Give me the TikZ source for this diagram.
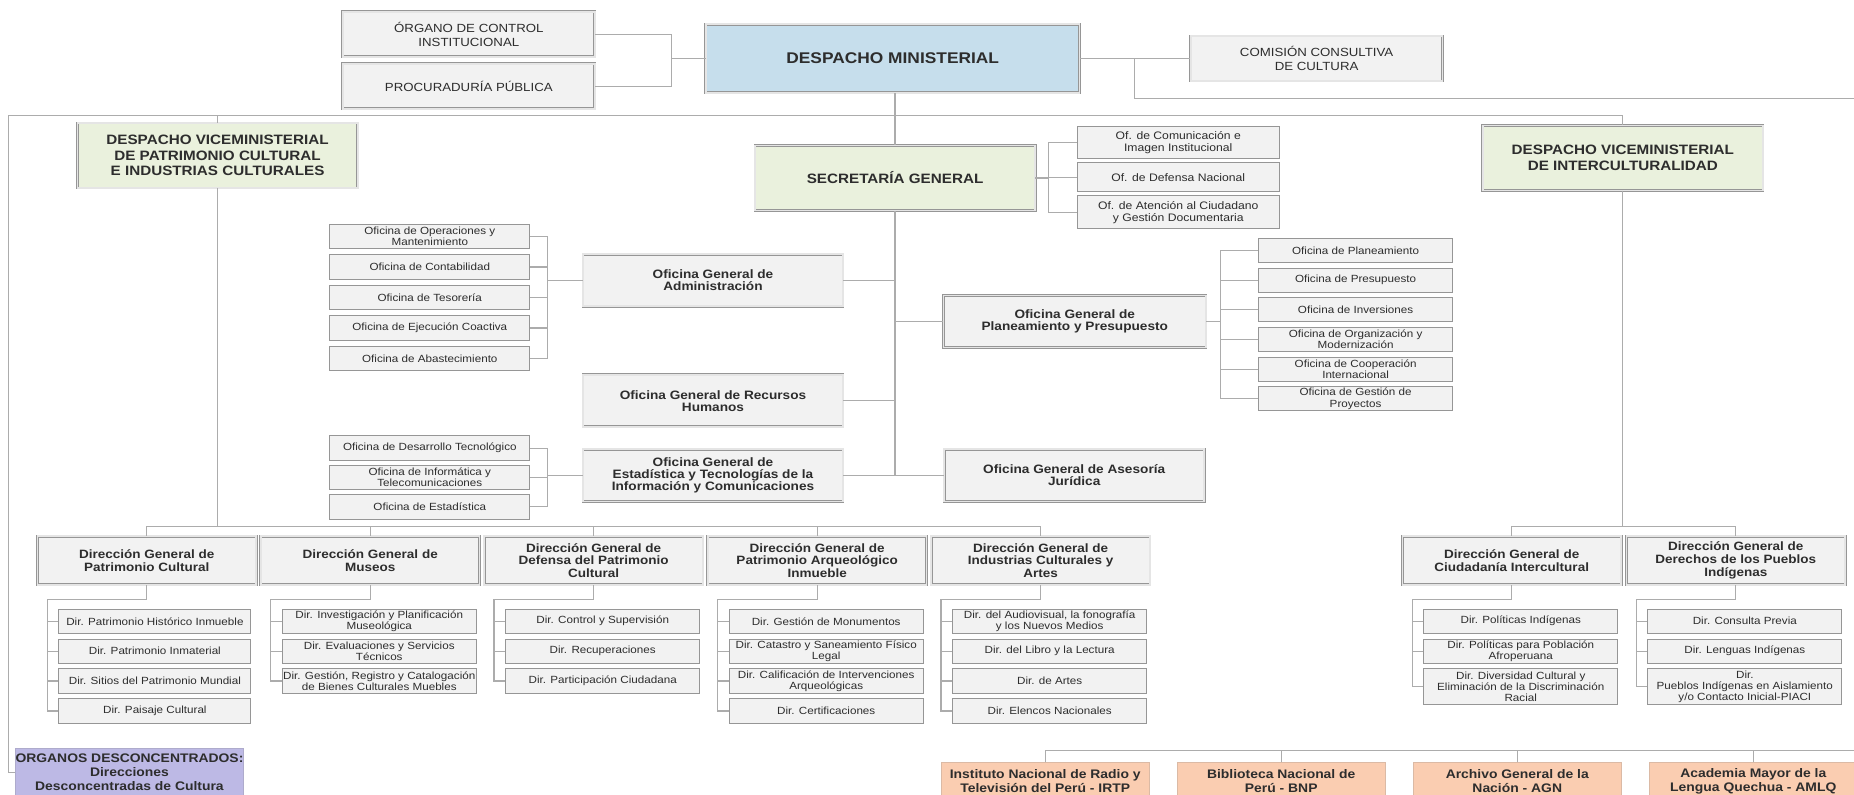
\documentclass[tikz,border=0pt]{standalone}
\usepackage{fontspec}
\setmainfont{Liberation Sans}[FakeStretch=1.12]
\usetikzlibrary{positioning, calc}
\definecolor{boxgray}{RGB}{242,242,242}
\definecolor{framegray}{RGB}{150,150,150}
\definecolor{linegray}{RGB}{172,172,172}
\definecolor{textgray}{RGB}{45,45,45}
\definecolor{dmblue}{RGB}{198,222,236}
\definecolor{vmgreen}{RGB}{234,241,221}
\definecolor{lilac}{RGB}{189,185,229}
\definecolor{salmon}{RGB}{250,205,177}
\newcommand{\fnsub}{\fontsize{8.8}{9.6}\selectfont}
\newcommand{\fnof}{\fontsize{9.2}{10.4}\selectfont}
\newcommand{\fnog}{\fontsize{10.3}{10}\selectfont\bfseries}
\newcommand{\fndg}{\fontsize{10.2}{10.8}\selectfont\bfseries}
\newcommand{\fnvm}{\fontsize{11.5}{13}\selectfont\bfseries}
\newcommand{\fntop}{\fontsize{10}{11.5}\selectfont}
\newcommand{\fndm}{\fontsize{13.1}{15}\selectfont\bfseries}
\newcommand{\fnads}{\fontsize{10.5}{11.8}\selectfont\bfseries}
\tikzset{
    link/.style = {draw=linegray, line width=1pt},
    frame/.style = {draw=framegray, line width=0.5pt, double=gray!20, double distance=1.4pt, align=center, inner sep=1pt, text=textgray},
    headbox/.style = {frame, fill=boxgray, font=\fntop, minimum width=213pt, minimum height=38pt},
    dmbox/.style = {frame, fill=dmblue, font=\fndm, minimum width=316pt, minimum height=58pt},
    vmbox/.style = {frame, fill=vmgreen, font=\fnvm, minimum width=237pt, minimum height=55pt},
    ogbox/.style = {frame, fill=boxgray, font=\fnog, minimum width=220pt, minimum height=44pt},
    dgbox/.style = {frame, fill=boxgray, font=\fndg, minimum width=185pt, minimum height=41pt},
    subbox/.style = {draw=framegray, line width=0.8pt, fill=boxgray, align=center, inner sep=0.5pt, text=textgray, font=\fnsub, minimum width=164pt, minimum height=20.5pt},
    ofbox/.style = {subbox, font=\fnof, minimum width=171pt},
    adsbox/.style = {draw=salmon!75!gray, line width=0.6pt, fill=salmon, align=center, inner sep=1pt, text=textgray, font=\fnads, minimum width=176pt, minimum height=31pt},
    descbox/.style = {draw=lilac!75!gray, line width=0.6pt, fill=lilac, align=center, inner sep=0pt, text=textgray, font=\fnads, minimum width=192pt, minimum height=40pt}
}

\begin{document}
\begin{tikzpicture}[x=1pt, y=-1pt]
  \useasboundingbox (0,0) rectangle (1568,672);
  \clip (0,0) rectangle (1568,672);

  % alta direccion
  \node[headbox] (oci) at (396.5,29) {ÓRGANO DE CONTROL\\INSTITUCIONAL};
  \node[headbox] (pp) at (396.5,73) {PROCURADURÍA PÚBLICA};
  \node[dmbox] (dm) at (755,49.5) {DESPACHO MINISTERIAL};
  \node[headbox] (ccc) at (1113.5,49.5) {COMISIÓN CONSULTIVA\\DE CULTURA};

  \node[vmbox] (dvpc) at (184,131.5) {DESPACHO VICEMINISTERIAL\\DE PATRIMONIO CULTURAL\\E INDUSTRIAS CULTURALES};
  \node[vmbox] (sg) at (757,150.5) {SECRETARÍA GENERAL};
  \node[vmbox] (dvi) at (1372.5,133.5) {DESPACHO VICEMINISTERIAL\\DE INTERCULTURALIDAD};

  \node[ofbox, minimum height=27pt] (ofci) at (996.5,120.5) {Of. de Comunicación e\\Imagen Institucional};
  \node[ofbox, minimum height=25pt, below=2.5pt of ofci] (ofdn) {Of. de Defensa Nacional};
  \node[ofbox, minimum height=28pt, below=2.5pt of ofdn] (ofac) {Of. de Atención al Ciudadano\\y Gestión Documentaria};

  % oficinas generales
  \node[ogbox] (oga) at (603,237) {Oficina General de\\Administración};
  \node[ogbox] (ogrh) at (603,339) {Oficina General de Recursos\\Humanos};
  \node[ogbox] (ogetic) at (603,402) {Oficina General de\\Estadística y Tecnologías de la\\Información y Comunicaciones};
  \node[ogbox, minimum width=222pt] (ogpp) at (909,272) {Oficina General de\\Planeamiento y Presupuesto};
  \node[ogbox] (ogaj) at (908.5,402) {Oficina General de Asesoría\\Jurídica};

  \node[subbox, minimum width=169pt, minimum height=21pt] (oa1) at (363.5,200) {Oficina de Operaciones y\\Mantenimiento};
  \node[subbox, minimum width=169pt, minimum height=21pt, below=4pt of oa1] (oa2) {Oficina de Contabilidad};
  \node[subbox, minimum width=169pt, minimum height=21pt, below=4pt of oa2] (oa3) {Oficina de Tesorería};
  \node[subbox, minimum width=169pt, minimum height=21pt, below=4pt of oa3] (oa4) {Oficina de Ejecución Coactiva};
  \node[subbox, minimum width=169pt, minimum height=21pt, below=4pt of oa4] (oa5) {Oficina de Abastecimiento};

  \node[subbox, minimum width=169pt, minimum height=21pt] (it1) at (363.5,379) {Oficina de Desarrollo Tecnológico};
  \node[subbox, minimum width=169pt, minimum height=21pt, below=3pt of it1] (it2) {Oficina de Informática y\\Telecomunicaciones};
  \node[subbox, minimum width=169pt, minimum height=21pt, below=3pt of it2] (it3) {Oficina de Estadística};

  \node[subbox] (pl1) at (1146.5,211.8) {Oficina de Planeamiento};
  \node[subbox, below=3.8pt of pl1] (pl2) {Oficina de Presupuesto};
  \node[subbox, below=3.8pt of pl2] (pl3) {Oficina de Inversiones};
  \node[subbox, below=3.8pt of pl3] (pl4) {Oficina de Organización y\\Modernización};
  \node[subbox, below=3.8pt of pl4] (pl5) {Oficina de Cooperación\\Internacional};
  \node[subbox, below=3.8pt of pl5] (pl6) {Oficina de Gestión de\\Proyectos};

  % direcciones generales
  \node[dgbox] (dgpc) at (124.1,474) {Dirección General de\\Patrimonio Cultural};
  \node[dgbox, right=3.5pt of dgpc] (dgm) {Dirección General de\\Museos};
  \node[dgbox, right=3.5pt of dgm] (dgd) {Dirección General de\\Defensa del Patrimonio\\Cultural};
  \node[dgbox, right=3.5pt of dgd] (dga) {Dirección General de\\Patrimonio Arqueológico\\Inmueble};
  \node[dgbox, right=3.5pt of dga] (dgi) {Dirección General de\\Industrias Culturales y\\Artes};
  \node[dgbox] (dgc) at (1278.5,474) {Dirección General de\\Ciudadanía Intercultural};
  \node[dgbox, right=4pt of dgc] (dgdp) {Dirección General de\\Derechos de los Pueblos\\Indígenas};

  \node[subbox, minimum width=162.5pt, anchor=north west] (pc1) at ([xshift=18pt, yshift=-20pt]dgpc.south west) {Dir. Patrimonio Histórico Inmueble};
  \node[subbox, minimum width=162.5pt, below=4pt of pc1] (pc2) {Dir. Patrimonio Inmaterial};
  \node[subbox, minimum width=162.5pt, below=4pt of pc2] (pc3) {Dir. Sitios del Patrimonio Mundial};
  \node[subbox, minimum width=162.5pt, below=4pt of pc3] (pc4) {Dir. Paisaje Cultural};

  \node[subbox, anchor=north west] (mu1) at ([xshift=18pt, yshift=-20pt]dgm.south west) {Dir. Investigación y Planificación\\Museológica};
  \node[subbox, below=4pt of mu1] (mu2) {Dir. Evaluaciones y Servicios\\Técnicos};
  \node[subbox, below=4pt of mu2] (mu3) {Dir. Gestión, Registro y Catalogación\\de Bienes Culturales Muebles};

  \node[subbox, anchor=north west] (de1) at ([xshift=18pt, yshift=-20pt]dgd.south west) {Dir. Control y Supervisión};
  \node[subbox, below=4pt of de1] (de2) {Dir. Recuperaciones};
  \node[subbox, below=4pt of de2] (de3) {Dir. Participación Ciudadana};

  \node[subbox, anchor=north west] (ar1) at ([xshift=18pt, yshift=-20pt]dga.south west) {Dir. Gestión de Monumentos};
  \node[subbox, below=4pt of ar1] (ar2) {Dir. Catastro y Saneamiento Físico\\Legal};
  \node[subbox, below=4pt of ar2] (ar3) {Dir. Calificación de Intervenciones\\Arqueológicas};
  \node[subbox, below=4pt of ar3] (ar4) {Dir. Certificaciones};

  \node[subbox, anchor=north west] (in1) at ([xshift=18pt, yshift=-20pt]dgi.south west) {Dir. del Audiovisual, la fonografía\\y los Nuevos Medios};
  \node[subbox, below=4pt of in1] (in2) {Dir. del Libro y la Lectura};
  \node[subbox, below=4pt of in2] (in3) {Dir. de Artes};
  \node[subbox, below=4pt of in3] (in4) {Dir. Elencos Nacionales};

  \node[subbox, anchor=north west] (ci1) at ([xshift=18pt, yshift=-20pt]dgc.south west) {Dir. Políticas Indígenas};
  \node[subbox, below=4pt of ci1] (ci2) {Dir. Políticas para Población\\Afroperuana};
  \node[subbox, minimum height=30pt, below=4pt of ci2] (ci3) {Dir. Diversidad Cultural y\\Eliminación de la Discriminación\\Racial};

  \node[subbox, anchor=north west] (pi1) at ([xshift=18pt, yshift=-20pt]dgdp.south west) {Dir. Consulta Previa};
  \node[subbox, below=4pt of pi1] (pi2) {Dir. Lenguas Indígenas};
  \node[subbox, minimum height=30pt, below=4pt of pi2] (pi3) {Dir.\\Pueblos Indígenas en Aislamiento\\y/o Contacto Inicial-PIACI};

  % desconcentrados y adscritos
  \node[descbox] (org) at (109.5,653) {ORGANOS DESCONCENTRADOS:\\Direcciones\\Desconcentradas de Cultura};
  \node[adsbox] (irtp) at (884,660.5) {Instituto Nacional de Radio y\\Televisión del Perú - IRTP};
  \node[adsbox, right=23pt of irtp] (bnp) {Biblioteca Nacional de\\Perú - BNP};
  \node[adsbox, right=23pt of bnp] (agn) {Archivo General de la\\Nación - AGN};
  \node[adsbox, right=23pt of agn] (amlq) {Academia Mayor de la\\Lengua Quechua - AMLQ};

  % conectores
  \coordinate (ocsplit) at (568,49.5);
  \coordinate (ccsplit) at (959.5,49.5);
  \coordinate (adsbus) at (1575,83);
  \coordinate (adsend) at (1575,634.7);
  \coordinate (topbus) at (7,98);
  \coordinate (sgsplit) at (887,150.5);
  \coordinate (oasplit) at ($(oga.west)+(-29.5,0)$);
  \coordinate (itsplit) at ($(ogetic.west)+(-29.5,0)$);
  \coordinate (plsplit) at ($(ogpp.east)+(12,0)$);
  \coordinate (dgbus) at ([yshift=8pt]dgpc.north);
  \coordinate (dgibus) at ([yshift=8pt]dgc.north);

  \draw[link] (oci.east) -| (ocsplit) |- (pp.east);
  \draw[link] (ocsplit) -- (dm.west);
  \draw[link] (dm.east) -- (ccc.west);
  \draw[link] (ccsplit) |- (adsbus);
  \draw[link] (org.west) -| (topbus) -| (dvi.north);
  \draw[link] (dvpc.north) -- (dvpc.north |- topbus);
  \draw[link] (sg.north |- dm.south) -- (sg.north);

  \draw[link] (sg.east) -- (sgsplit);
  \draw[link] (ofci.west) -| (sgsplit) |- (ofac.west);
  \draw[link] (ofdn.west) -- (ofdn.west -| sgsplit);

  \draw[link] (sg.south) -- (sg.south |- ogetic.east);
  \foreach \n in {oga,ogrh,ogetic} \draw[link] (\n.east) -- (\n.east -| sg.south);
  \foreach \n in {ogpp,ogaj} \draw[link] (\n.west) -- (\n.west -| sg.south);

  \draw[link] (oa1.east) -| (oasplit) |- (oa5.east);
  \draw[link] (oasplit) -- (oga.west);
  \foreach \n in {oa2,oa3,oa4} \draw[link] (\n.east) -- (\n.east -| oasplit);
  \draw[link] (it1.east) -| (itsplit) |- (it3.east);
  \draw[link] (itsplit) -- (ogetic.west);
  \draw[link] (it2.east) -- (it2.east -| itsplit);
  \draw[link] (pl1.west) -| (plsplit) |- (pl6.west);
  \draw[link] (plsplit) -- (ogpp.east);
  \foreach \n in {pl2,pl3,pl4,pl5} \draw[link] (\n.west) -- (\n.west -| plsplit);

  \draw[link] (dgpc.north) -- (dgbus) -- (dgbus -| dgi.north) -- (dgi.north);
  \foreach \n in {dgm,dgd,dga} \draw[link] (\n.north) -- (\n.north |- dgbus);
  \draw[link] (dvpc.south) -- (dvpc.south |- dgbus);
  \draw[link] (dgc.north) -- (dgibus) -- (dgibus -| dgdp.north) -- (dgdp.north);
  \draw[link] (dvi.south) -- (dvi.south |- dgibus);

  \draw[link] (dgpc.south) -- ++(0,12) -| ([xshift=-9.5pt]pc4.west) -- (pc4.west);
  \foreach \n in {pc1,pc2,pc3} \draw[link] (\n.west) -- ++(-9.5pt,0);
  \draw[link] (dgm.south) -- ++(0,12) -| ([xshift=-9.5pt]mu3.west) -- (mu3.west);
  \foreach \n in {mu1,mu2} \draw[link] (\n.west) -- ++(-9.5pt,0);
  \draw[link] (dgd.south) -- ++(0,12) -| ([xshift=-9.5pt]de3.west) -- (de3.west);
  \foreach \n in {de1,de2} \draw[link] (\n.west) -- ++(-9.5pt,0);
  \draw[link] (dga.south) -- ++(0,12) -| ([xshift=-9.5pt]ar4.west) -- (ar4.west);
  \foreach \n in {ar1,ar2,ar3} \draw[link] (\n.west) -- ++(-9.5pt,0);
  \draw[link] (dgi.south) -- ++(0,12) -| ([xshift=-9.5pt]in4.west) -- (in4.west);
  \foreach \n in {in1,in2,in3} \draw[link] (\n.west) -- ++(-9.5pt,0);
  \draw[link] (dgc.south) -- ++(0,12) -| ([xshift=-9.5pt]ci3.west) -- (ci3.west);
  \foreach \n in {ci1,ci2} \draw[link] (\n.west) -- ++(-9.5pt,0);
  \draw[link] (dgdp.south) -- ++(0,12) -| ([xshift=-9.5pt]pi3.west) -- (pi3.west);
  \foreach \n in {pi1,pi2} \draw[link] (\n.west) -- ++(-9.5pt,0);

  \draw[link] (irtp.north) |- (adsend);
  \foreach \n in {bnp,agn,amlq} \draw[link] (\n.north) -- (\n.north |- adsend);
\end{tikzpicture}
\end{document}
